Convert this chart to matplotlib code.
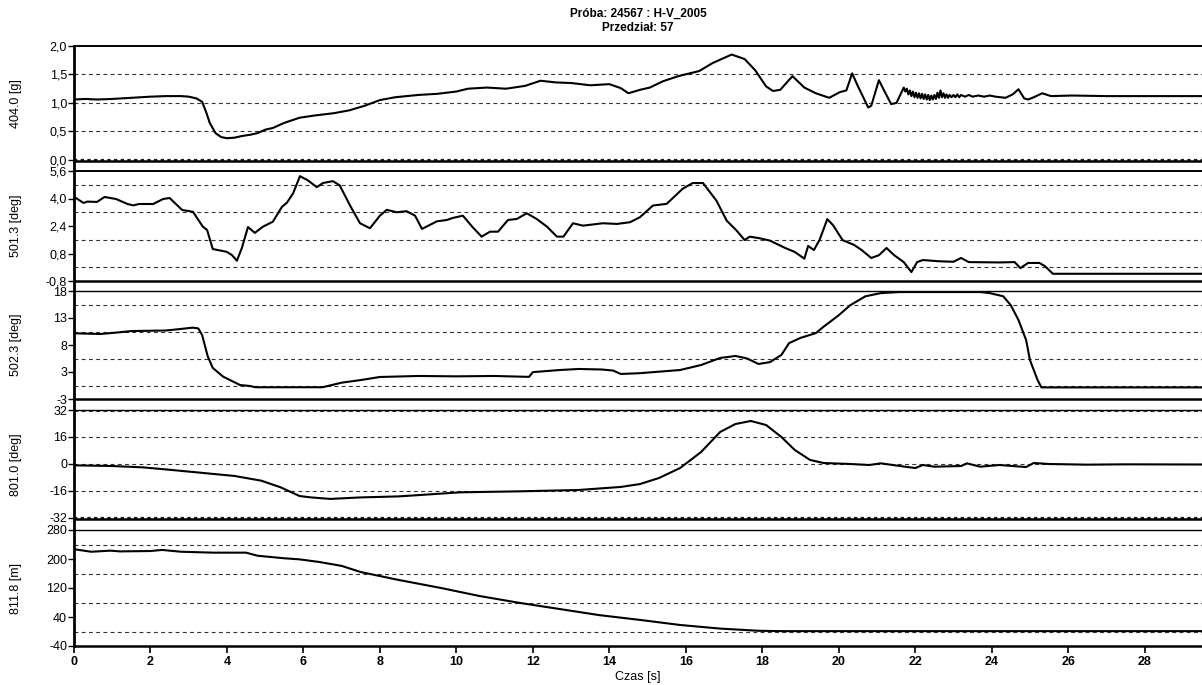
import matplotlib
matplotlib.use("Agg")
import matplotlib.pyplot as plt
from matplotlib.lines import Line2D

plt.rcParams['font.family'] = ['Liberation Sans', 'DejaVu Sans']

# ---- time axis ----
x_ticks = [0, 2, 4, 6, 8, 10, 12, 14, 16, 18, 20, 22, 24, 26, 28]
x_max = 29.5

# ---- channel 404.0 [g]: (time s, value) ----
g_points = [
    (0.0, 1.06), (0.3, 1.07), (0.6, 1.06), (1.0, 1.07), (1.5, 1.09), (2.0, 1.11),
    (2.4, 1.12), (2.8, 1.12), (3.0, 1.11), (3.2, 1.08), (3.35, 1.02), (3.45, 0.85),
    (3.55, 0.65), (3.7, 0.47), (3.85, 0.40), (4.0, 0.38), (4.2, 0.39), (4.4, 0.42),
    (4.6, 0.44), (4.8, 0.47), (5.0, 0.53), (5.2, 0.56), (5.5, 0.65), (5.9, 0.74),
    (6.3, 0.78), (6.8, 0.82), (7.2, 0.87), (7.6, 0.95), (8.0, 1.05), (8.4, 1.10),
    (9.0, 1.14), (9.5, 1.16), (10.0, 1.20), (10.3, 1.25), (10.8, 1.27), (11.3, 1.25),
    (11.8, 1.30), (12.2, 1.39), (12.6, 1.36), (13.0, 1.35), (13.5, 1.31), (14.0, 1.33),
    (14.3, 1.26), (14.5, 1.17), (14.8, 1.23), (15.06, 1.27), (15.4, 1.38), (15.8, 1.47),
    (16.35, 1.56), (16.7, 1.70), (17.2, 1.85), (17.54, 1.77), (17.82, 1.57), (18.1, 1.29),
    (18.28, 1.21), (18.47, 1.23), (18.79, 1.47), (19.1, 1.27), (19.4, 1.17), (19.75, 1.09),
    (20.03, 1.19), (20.2, 1.22), (20.35, 1.52), (20.49, 1.31), (20.77, 0.92), (20.85, 0.95),
    (21.05, 1.40), (21.2, 1.20), (21.37, 0.98), (21.51, 1.00), (21.7, 1.27), (21.74, 1.20),
    (21.78, 1.25), (21.82, 1.15), (21.86, 1.22), (21.9, 1.12), (21.94, 1.20), (21.98, 1.10),
    (22.02, 1.18), (22.06, 1.09), (22.1, 1.17), (22.14, 1.08), (22.18, 1.16), (22.22, 1.07),
    (22.26, 1.15), (22.3, 1.06), (22.34, 1.14), (22.38, 1.05), (22.42, 1.13), (22.46, 1.06),
    (22.5, 1.14), (22.54, 1.07), (22.58, 1.18), (22.62, 1.09), (22.66, 1.22), (22.7, 1.10),
    (22.74, 1.17), (22.78, 1.09), (22.82, 1.15), (22.86, 1.09), (22.9, 1.14), (22.95, 1.10),
    (23.0, 1.14), (23.05, 1.10), (23.1, 1.15), (23.15, 1.10), (23.2, 1.14), (23.3, 1.11),
    (23.4, 1.14), (23.5, 1.11), (23.65, 1.13), (23.8, 1.11), (23.95, 1.13), (24.1, 1.11),
    (24.36, 1.09), (24.55, 1.15), (24.7, 1.24), (24.85, 1.08), (24.95, 1.06), (25.1, 1.10),
    (25.32, 1.17), (25.55, 1.12), (26.1, 1.13), (27.0, 1.12), (28.0, 1.12), (29.5, 1.12),
]

# ---- channel 501.3 [deg] ----
a_points = [
    (0.0, 4.10), (0.25, 3.74), (0.35, 3.82), (0.6, 3.80), (0.8, 4.09), (1.1, 3.97),
    (1.4, 3.68), (1.55, 3.60), (1.7, 3.68), (2.07, 3.68), (2.33, 3.97), (2.5, 4.03),
    (2.83, 3.33), (3.11, 3.23), (3.37, 2.36), (3.48, 2.17), (3.63, 1.06), (3.99, 0.90),
    (4.13, 0.71), (4.26, 0.38), (4.39, 1.12), (4.55, 2.34), (4.73, 2.00), (4.94, 2.36),
    (5.2, 2.65), (5.44, 3.52), (5.57, 3.76), (5.73, 4.30), (5.91, 5.30), (6.12, 5.05),
    (6.35, 4.66), (6.51, 4.90), (6.77, 5.01), (6.95, 4.76), (7.22, 3.59), (7.48, 2.56),
    (7.74, 2.27), (8.0, 3.00), (8.18, 3.34), (8.44, 3.20), (8.7, 3.26), (8.92, 3.00),
    (9.1, 2.23), (9.49, 2.67), (9.75, 2.75), (9.91, 2.87), (10.17, 3.00), (10.43, 2.32),
    (10.66, 1.78), (10.88, 2.07), (11.09, 2.07), (11.35, 2.75), (11.58, 2.81), (11.84, 3.14),
    (12.1, 2.81), (12.37, 2.36), (12.63, 1.78), (12.8, 1.78), (13.05, 2.56), (13.31, 2.42),
    (13.83, 2.56), (14.2, 2.52), (14.54, 2.62), (14.8, 2.91), (15.14, 3.59), (15.5, 3.69),
    (15.92, 4.57), (16.18, 4.90), (16.45, 4.90), (16.8, 3.88), (17.07, 2.71), (17.33, 2.13),
    (17.54, 1.58), (17.67, 1.78), (17.9, 1.70), (18.2, 1.55), (18.6, 1.12), (18.85, 0.89),
    (19.1, 0.50), (19.2, 1.24), (19.35, 1.00), (19.5, 1.60), (19.7, 2.80), (19.85, 2.45),
    (20.1, 1.58), (20.4, 1.30), (20.6, 1.00), (20.85, 0.54), (21.05, 0.70), (21.25, 1.12),
    (21.45, 0.70), (21.7, 0.30), (21.9, -0.28), (22.05, 0.30), (22.2, 0.42), (22.6, 0.35),
    (23.0, 0.32), (23.2, 0.54), (23.4, 0.30), (24.2, 0.28), (24.6, 0.30), (24.75, -0.05),
    (24.95, 0.25), (25.25, 0.25), (25.4, 0.05), (25.6, -0.38), (29.5, -0.38),
]

# ---- channel 502.3 [deg] ----
b_points = [
    (0.0, 9.97), (0.7, 9.84), (1.1, 10.1), (1.5, 10.4), (2.4, 10.5), (2.8, 10.8),
    (3.1, 11.04), (3.25, 10.9), (3.35, 9.65), (3.5, 5.53), (3.63, 3.39), (3.9, 1.74),
    (4.08, 1.10), (4.34, 0.16), (4.6, -0.03), (4.75, -0.27), (6.5, -0.27), (7.0, 0.6),
    (7.5, 1.1), (8.0, 1.68), (9.0, 1.87), (10.0, 1.80), (11.0, 1.87), (11.9, 1.70),
    (12.0, 2.60), (12.7, 3.0), (13.2, 3.2), (13.8, 3.1), (14.1, 2.9), (14.3, 2.25),
    (14.8, 2.4), (15.85, 3.0), (16.4, 3.95), (16.9, 5.29), (17.3, 5.67), (17.6, 5.2),
    (17.9, 4.15), (18.2, 4.5), (18.5, 5.86), (18.7, 8.1), (19.0, 9.1), (19.4, 10.0),
    (19.6, 11.2), (20.0, 13.4), (20.3, 15.3), (20.7, 17.0), (21.1, 17.6), (21.6, 17.8),
    (23.7, 17.8), (23.95, 17.6), (24.3, 17.0), (24.5, 15.3), (24.7, 12.5), (24.9, 8.7),
    (25.0, 4.9), (25.2, 1.1), (25.3, -0.3), (29.5, -0.3),
]

# ---- channel 801.0 [deg] ----
c_points = [
    (0.0, -0.8), (1.0, -1.2), (1.8, -2.0), (2.3, -3.0), (3.0, -4.5), (4.2, -7.1),
    (4.9, -9.9), (5.4, -13.8), (5.9, -19.0), (6.2, -19.8), (6.7, -20.7), (7.5, -19.8),
    (8.5, -19.2), (10.1, -16.8), (11.65, -16.2), (13.2, -15.4), (14.3, -13.6),
    (14.8, -11.9), (15.3, -8.3), (15.85, -2.4), (16.4, 7.1), (16.9, 19.0), (17.3, 23.7),
    (17.7, 25.5), (18.1, 23.1), (18.5, 16.0), (18.85, 8.3), (19.25, 2.4), (19.6, 0.6),
    (20.3, 0.0), (20.8, -0.6), (21.1, 0.4), (21.6, -1.2), (22.0, -2.4), (22.2, -0.6),
    (22.5, -1.6), (23.2, -1.2), (23.35, 0.4), (23.7, -1.6), (24.2, -0.6), (24.9, -1.8),
    (25.1, 0.6), (25.5, 0.0), (26.5, -0.4), (27.5, -0.2), (29.5, -0.3),
]

# ---- channel 811.8 [m] ----
d_points = [
    (0.0, 227), (0.45, 220), (0.95, 223), (1.2, 221), (2.0, 222), (2.3, 225), (2.5, 223),
    (2.8, 220), (3.65, 217.5), (4.5, 217.5), (4.8, 209), (5.2, 205), (5.5, 202),
    (5.9, 199), (6.4, 192), (7.0, 181), (7.5, 164), (8.5, 142), (9.6, 120), (10.6, 98),
    (11.65, 79), (12.7, 62), (13.75, 45), (14.8, 32), (15.85, 18), (16.9, 8), (17.9, 2),
    (18.5, 1), (29.5, 1),
]

# ---- axis names and tick labels ----
names = ["404.0 [g]", "501.3 [deg]", "502.3 [deg]", "801.0 [deg]", "811.8 [m]"]
tick_labels = [
    ["0,0", "0,5", "1,0", "1,5", "2,0"],
    ["-0,8", "0,8", "2,4", "4,0", "5,6"],
    ["-3", "3", "8", "13", "18"],
    ["-32", "-16", "0", "16", "32"],
    ["-40", "40", "120", "200", "280"],
]
tick_values = [
    [0.0, 0.5, 1.0, 1.5, 2.0],
    [-0.8, 0.8, 2.4, 4.0, 5.6],
    [-2.5, 2.625, 7.75, 12.875, 18.0],
    [-32, -16, 0, 16, 32],
    [-40, 40, 120, 200, 280],
]

W, H = 1202, 685
fig = plt.figure(figsize=(W / 100, H / 100), dpi=100)

left_px, right_px = 74, 1202


def place(top, bottom):
    return [left_px / W, 1 - bottom / H, (right_px - left_px) / W, (bottom - top) / H]


# (top px, bottom px, y-limits, dashed grid levels, dense dotted levels)
layout = [
    (46, 161, (-0.02, 2.0), [0.5, 1.0, 1.5], [0.0]),
    (171, 281, (-0.8, 5.6), [0.0, 1.6, 3.2, 4.8], []),
    (291, 399, (-2.5, 18.0), [0.0625, 5.1875, 10.3125, 15.4375], []),
    (410, 519, (-32.6, 32.0), [-16, 0, 16, 31.6], [-32]),
    (530, 646, (-40, 280), [0, 80, 160, 240], []),
]
series = [g_points, a_points, b_points, c_points, d_points]

for i, ((top, bot, ylim, grid, dense), pts) in enumerate(zip(layout, series)):
    tt = [p[0] for p in pts]
    vv = [p[1] for p in pts]
    ax = fig.add_axes(place(top, bot))
    for g in grid:
        ax.axhline(g, color="0.2", lw=0.8, ls=(0, (3.5, 3)), zorder=1)
    for g in dense:
        ax.axhline(g, color="0.1", lw=1.6, ls=(0, (1.5, 1.5)), zorder=1)
    ax.plot(tt, vv, color="black", lw=1.5, zorder=3)
    ax.set_xlim(0, x_max)
    ax.set_ylim(*ylim)
    ax.set_yticks(tick_values[i])
    ax.set_yticklabels(tick_labels[i])
    ax.spines["right"].set_visible(False)
    ax.spines["left"].set_visible(False)
    ax.spines["top"].set_linewidth(1.4 if i < 2 else 1.0)
    ax.spines["bottom"].set_linewidth(1.8)
    ax.tick_params(axis="y", direction="out", length=4, width=1.0, labelsize=9, pad=1)
    ax.set_facecolor("none")
    if i < 4:
        ax.tick_params(axis="x", bottom=False, labelbottom=False)
    else:
        ax.set_xticks(x_ticks)
        ax.set_xticklabels([str(v) for v in x_ticks], fontweight="bold")
        ax.tick_params(axis="x", direction="out", length=5, width=1.2, labelsize=9, pad=2)
    fig.text(16 / W, 1 - ((top + bot) / 2) / H, names[i], rotation=90,
             ha="center", va="center", fontsize=9)

# continuous left axis line spanning all channels
fig.add_artist(Line2D([left_px / W, left_px / W], [1 - 46 / H, 1 - 646 / H],
                      color="black", lw=2.0, transform=fig.transFigure))

fig.text(638 / W, 1 - 14 / H, "Próba: 24567 : H-V_2005", ha="center", va="center",
         fontsize=8.5, fontweight="bold")
fig.text(638 / W, 1 - 28 / H, "Przedział: 57", ha="center", va="center",
         fontsize=8.5, fontweight="bold")
fig.text(638 / W, 1 - 677 / H, "Czas [s]", ha="center", va="center", fontsize=9)

fig.savefig("out.png", dpi=100, facecolor="white")
